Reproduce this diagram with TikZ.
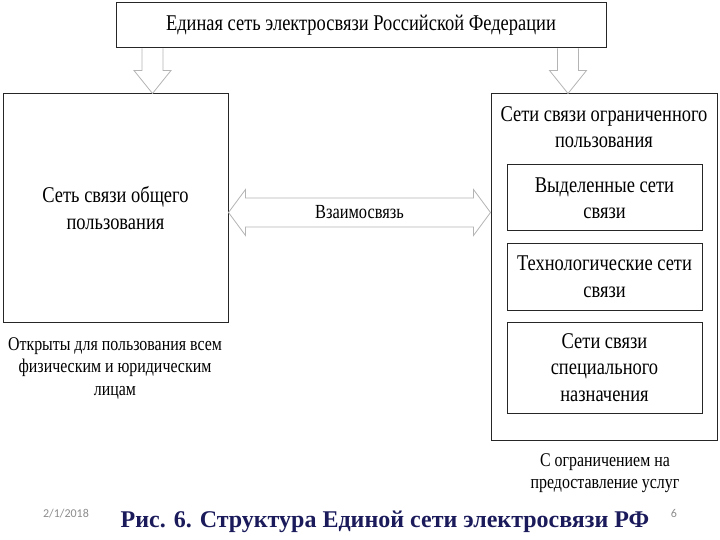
\documentclass[tikz,border=0pt]{standalone}
\usepackage{fontspec}
\setmainfont[FakeStretch=0.82]{Liberation Serif}
\newfontfamily\capfont{Liberation Serif}
\newfontfamily\slidefont{Carlito}
\usetikzlibrary{calc,positioning}
\definecolor{boxline}{HTML}{262626}
\definecolor{hollowgrey}{HTML}{B4B4B4}
\definecolor{capnavy}{HTML}{1B1B5C}
\definecolor{slidegrey}{HTML}{8C8C8C}

\begin{document}
\begin{tikzpicture}[
  x=1pt, y=-1pt,
  box/.style={draw=boxline, line width=1pt, fill=white, align=center,
              inner sep=0pt, font=\fontsize{22.5}{26.5}\selectfont},
  note/.style={align=center, inner sep=0pt, font=\fontsize{19.4}{22.5}\selectfont},
  hollow/.style={draw=hollowgrey, line width=0.8pt, fill=white, line join=miter},
]
\useasboundingbox (0,0) rectangle (720,540);

% ---------------- top ----------------------------------------------
\node[box, minimum width=490, minimum height=45] (top) at (361,25.5)
  {Единая сеть электросвязи Российской Федерации};

% ---------------- two kinds of networks ----------------------------
\node[box, minimum width=225, minimum height=228] (pub) at (115.5,208)
  {Сеть связи общего\\пользования};
\node[box, minimum width=226, minimum height=346] (lim) at (604,267) {};
\node[note, font=\fontsize{22.5}{26.5}\selectfont] (limt) at (604,127)
  {Сети связи ограниченного\\пользования};

\node[box, minimum width=195, minimum height=66] (ded) at (604.5,198)
  {Выделенные сети\\связи};
\node[box, minimum width=195, minimum height=67] (tech) at (604.5,276.5)
  {Технологические сети\\связи};
\node[box, minimum width=195, minimum height=91] (spec) at (604.5,367.5)
  {Сети связи\\специального\\назначения};

% ---------------- notes --------------------------------------------
\node[note] (pubn) at (115,368)
  {Открыты для пользования всем\\физическим и юридическим\\лицам};
\node[note] (limn) at (605,473)
  {С ограничением на\\предоставление услуг};

% ---------------- hollow arrows ------------------------------------
\coordinate (la1) at (top.south -| 152.5,0);
\coordinate (la2) at (pub.north -| 152.5,0);
\coordinate (ra1) at (top.south -| 568,0);
\coordinate (ra2) at (lim.north -| 568,0);
\foreach \a/\b in {la1/la2, ra1/ra2}
  \draw[hollow] ($(\a)+(-10.5,0)$) -- ($(\b)+(-10.5,-23)$) -- ($(\b)+(-18.5,-23)$)
    -- (\b) -- ($(\b)+(18.5,-23)$) -- ($(\b)+(10.5,-23)$) -- ($(\a)+(10.5,0)$);

% double arrow between the two networks
\coordinate (lk1) at (pub.east |- 0,212.5);
\coordinate (lk2) at (lim.west |- 0,212.5);
\draw[hollow] (lk1) -- ($(lk1)+(17,-23)$) -- ($(lk1)+(17,-14.5)$)
  -- ($(lk2)+(-17,-14.5)$) -- ($(lk2)+(-17,-23)$) -- (lk2)
  -- ($(lk2)+(-17,23)$) -- ($(lk2)+(-17,14.5)$) -- ($(lk1)+(17,14.5)$)
  -- ($(lk1)+(17,23)$) -- cycle;
\node[note, font=\fontsize{20}{22}\selectfont] (link) at ($(lk1)!0.5!(lk2)$) {Взаимосвязь};

% ---------------- slide footer -------------------------------------
\node[text=slidegrey, font=\slidefont\fontsize{12}{14}\selectfont, inner sep=0pt]
  (date) at (66,514) {2/1/2018};
\node[text=slidegrey, font=\slidefont\fontsize{12}{14}\selectfont, inner sep=0pt]
  (page) at (674,513) {6};
\node[text=capnavy, font=\capfont\bfseries\fontsize{24}{27}\selectfont, inner sep=0pt]
  (cap) at (385,522) {Рис. 6. Структура Единой сети электросвязи РФ};
\end{tikzpicture}
\end{document}
